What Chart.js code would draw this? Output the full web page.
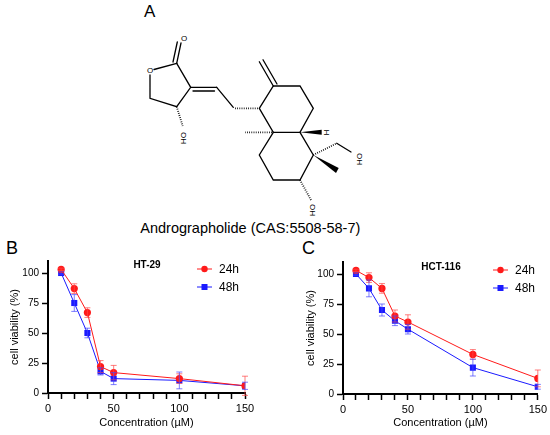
<!DOCTYPE html>
<html>
<head>
<meta charset="utf-8">
<script src="https://cdn.jsdelivr.net/npm/chart.js@4/dist/chart.umd.min.js"></script>
<style>
  body { margin: 0; background: #fff; width: 550px; height: 435px; position: relative; overflow: hidden; font-family: "Liberation Sans", Arial, sans-serif; }
  #structure { position: absolute; left: 0; top: 0; }
  .panel { position: absolute; top: 250px; }
  .lbl { position: absolute; font-size: 18px; color: #000; }
</style>
</head>
<body>
<svg id="structure" width="550" height="245" xmlns="http://www.w3.org/2000/svg">
  <text x="144" y="17" font-size="17" font-family="Liberation Sans, Arial">A</text>
  <g stroke="#000" stroke-width="1.3" fill="none" stroke-linecap="round">
    <!-- lactone ring -->
    <polyline points="176.7,63.3 190.7,87.3 176.7,106.7 150,98.3 150,75"/>
    <line x1="154" y1="69.5" x2="176.7" y2="63.3"/>
    <line x1="176.7" y1="63.3" x2="181" y2="43"/>
    <line x1="173" y1="62" x2="177.3" y2="42"/>
    <!-- exocyclic double bond and chain -->
    <line x1="190.7" y1="87.3" x2="216.7" y2="87.3"/>
    <line x1="193" y1="91" x2="214.5" y2="91"/>
    <line x1="216.7" y1="87.3" x2="233.3" y2="107.3"/>
    <!-- upper ring -->
    <polyline points="259.3,108.3 273.3,86 300,86 313.3,108.3 300,132.3 273.3,132.3 259.3,108.3"/>
    <line x1="273.3" y1="86" x2="259.3" y2="61.7"/>
    <line x1="277" y1="84" x2="263" y2="59.7"/>
    <!-- lower ring -->
    <polyline points="273.3,132.3 259.3,155 273.3,180 300,180 313.3,155 300,132.3"/>
    <line x1="336.7" y1="143.3" x2="351" y2="152"/>
  </g>
  <!-- hashed bonds -->
  <g stroke="#000" stroke-width="1.8" stroke-dasharray="0.8 1.4" fill="none">
    <line x1="176.7" y1="106.7" x2="182.7" y2="126"/>
    <line x1="235" y1="108.3" x2="258" y2="108.3"/>
    <line x1="272" y1="132.3" x2="245" y2="132.3"/>
    <line x1="313.3" y1="155" x2="336.7" y2="143.3"/>
    <line x1="300" y1="180" x2="311" y2="200"/>
  </g>
  <!-- bold wedges -->
  <polygon points="300,132.3 321.7,129.8 321.7,134.8" fill="#000"/>
  <polygon points="313.3,155 338.7,168 336,173" fill="#000"/>
  <g font-family="Liberation Sans, Arial" font-size="8" fill="#000">
    <text x="150" y="73" text-anchor="middle">O</text>
    <text x="184" y="41" text-anchor="middle">O</text>
    <text transform="translate(181,138) rotate(90)" text-anchor="middle">OH</text>
    <text transform="translate(324,132.3) rotate(90)" text-anchor="middle">H</text>
    <text transform="translate(357,159) rotate(90)" text-anchor="middle">OH</text>
    <text transform="translate(310,210) rotate(90)" text-anchor="middle">OH</text>
  </g>
  <text x="250.3" y="233" font-size="14.5" text-anchor="middle" font-family="Liberation Sans, Arial">Andrographolide (CAS:5508-58-7)</text>
</svg>
<div class="lbl" style="left:6px;top:238px;">B</div>
<div class="lbl" style="left:302px;top:238px;">C</div>
<div class="panel" style="left:0;"><canvas id="chartB" width="275" height="185"></canvas></div>
<div class="panel" style="left:275px;"><canvas id="chartC" width="275" height="185"></canvas></div>
<script>
const concentrations = [10, 20, 30, 40, 50, 100, 150];
const ht29_24h = [103, 87, 67, 22, 17, 12, 6];
const ht29_24hErr = [1, 4, 4, 5, 6, 4, 8];
const ht29_48h = [100, 75, 50, 18, 12, 10.5, 6];
const ht29_48hErr = [1, 7, 4, 3, 5, 7, 3];
const hct_24h = [103, 97, 88, 65, 60, 33, 13];
const hct_24hErr = [1, 4, 4, 5, 6, 4, 7];
const hct_48h = [100, 88, 70, 61, 54, 22, 6];
const hct_48hErr = [1, 7, 5, 4, 4, 7, 2];
const yTicks = [0, 25, 50, 75, 100];
const xTicks = [0, 50, 100, 150];
const seriesLabels = ['24h', '48h'];

const RED = '#ff1a1a';
const BLUE = '#1a1aff';

// error bars drawn through the chart's own scales
const errorBars = {
    id: 'errorBars',
    afterDatasetsDraw(chart) {
        const ctx = chart.ctx;
        const xs = chart.scales.x, ys = chart.scales.y;
        chart.data.datasets.forEach(ds => {
            ctx.save();
            ctx.strokeStyle = ds.errColor;
            ctx.lineWidth = 1;
            ds.data.forEach((p, i) => {
                const e = ds.errors[i];
                const x = xs.getPixelForValue(p.x);
                const y1 = ys.getPixelForValue(p.y + e);
                const y2 = ys.getPixelForValue(p.y - e);
                ctx.beginPath();
                ctx.moveTo(x, y1); ctx.lineTo(x, y2);
                ctx.moveTo(x - 3, y1); ctx.lineTo(x + 3, y1);
                ctx.moveTo(x - 3, y2); ctx.lineTo(x + 3, y2);
                ctx.stroke();
            });
            ctx.restore();
        });
    }
};

// legend + cell line title inside the plot
const panelText = {
    id: 'panelText',
    afterDraw(chart, args, opts) {
        const ctx = chart.ctx;
        ctx.save();
        ctx.font = 'bold 10px "Liberation Sans", Arial';
        ctx.fillStyle = '#000';
        ctx.textAlign = 'center';
        ctx.textBaseline = 'middle';
        ctx.fillText(opts.title, opts.titleX, opts.titleY);
        chart.data.datasets.forEach((ds, i) => {
            const y = opts.legendY + i * 18;
            const x0 = opts.legendX;
            ctx.strokeStyle = ds.borderColor;
            ctx.lineWidth = 1;
            ctx.beginPath();
            ctx.moveTo(x0, y); ctx.lineTo(x0 + 15, y);
            ctx.stroke();
            ctx.fillStyle = ds.pointBackgroundColor;
            if (ds.pointStyle === 'rect') {
                ctx.fillRect(x0 + 7.5 - 3, y - 3, 6, 6);
            } else {
                ctx.beginPath();
                ctx.arc(x0 + 7.5, y, 3.2, 0, Math.PI * 2);
                ctx.fill();
            }
            ctx.fillStyle = '#000';
            ctx.textAlign = 'left';
            ctx.font = '12px "Liberation Sans", Arial';
            ctx.fillText(ds.label, x0 + 22, y + 1);
        });
        ctx.restore();
    }
};

function toPoints(vals) {
    return vals.map((v, i) => ({ x: concentrations[i], y: v }));
}

function makeChart(id, s24, e24, s48, e48, cfg) {
    return new Chart(document.getElementById(id), {
        type: 'line',
        data: {
            datasets: [{
                label: seriesLabels[0],
                data: toPoints(s24),
                errors: e24,
                errColor: 'rgba(255,70,70,0.7)',
                borderColor: RED,
                backgroundColor: RED,
                pointBackgroundColor: RED,
                pointBorderColor: RED,
                pointStyle: 'circle',
                pointRadius: 3.6,
                pointBorderWidth: 0,
                borderWidth: 1,
                tension: 0
            }, {
                label: seriesLabels[1],
                data: toPoints(s48),
                errors: e48,
                errColor: 'rgba(70,70,255,0.7)',
                borderColor: BLUE,
                backgroundColor: BLUE,
                pointBackgroundColor: BLUE,
                pointBorderColor: BLUE,
                pointStyle: 'rect',
                pointRadius: 4.3,
                pointBorderWidth: 0,
                borderWidth: 1,
                tension: 0
            }]
        },
        options: {
            responsive: false,
            animation: false,
            layout: { padding: { top: cfg.top, right: cfg.right, left: 0, bottom: 0 } },
            plugins: {
                legend: { display: false },
                tooltip: { enabled: false },
                panelText: cfg.text
            },
            scales: {
                x: {
                    type: 'linear',
                    min: 0,
                    max: 150,
                    afterBuildTicks: axis => {
                        const t = [];
                        for (let v = 0; v <= 150; v += 10) t.push({ value: v });
                        axis.ticks = t;
                    },
                    afterFit: scale => { scale.height = cfg.xHeight; },
                    grid: { drawOnChartArea: false, drawTicks: true, tickLength: 6, tickColor: '#000', tickWidth: 1.5 },
                    border: { display: true, color: '#000', width: 2 },
                    ticks: {
                        color: '#000',
                        font: { size: 11, family: '"Liberation Sans", Arial' },
                        padding: 3,
                        maxRotation: 0,
                        autoSkip: false,
                        callback: v => xTicks.includes(v) ? v : ''
                    },
                    title: {
                        display: true,
                        text: 'Concentration (µM)',
                        color: '#000',
                        font: { size: 11, family: '"Liberation Sans", Arial' },
                        padding: { top: 0, bottom: 5 }
                    }
                },
                y: {
                    min: 0,
                    max: 110,
                    afterBuildTicks: axis => { axis.ticks = yTicks.map(v => ({ value: v })); },
                    afterFit: scale => { scale.width = cfg.yWidth; },
                    grid: { drawOnChartArea: false, drawTicks: true, tickLength: 6, tickColor: '#000', tickWidth: 1.5 },
                    border: { display: true, color: '#000', width: 2 },
                    ticks: {
                        color: '#000',
                        font: { size: 10, family: '"Liberation Sans", Arial' },
                        padding: 3
                    },
                    title: {
                        display: true,
                        text: 'cell viability (%)',
                        color: '#000',
                        font: { size: 11, family: '"Liberation Sans", Arial' },
                        padding: { top: cfg.yTitlePad, bottom: 0 }
                    }
                }
            }
        },
        plugins: [errorBars, panelText]
    });
}

const chartB = makeChart('chartB', ht29_24h, ht29_24hErr, ht29_48h, ht29_48hErr, {
    top: 11, right: 30, xHeight: 42, yWidth: 48, yTitlePad: 8,
    text: { title: 'HT-29', titleX: 147, titleY: 15, legendX: 197, legendY: 19 }
});

const chartC = makeChart('chartC', hct_24h, hct_24hErr, hct_48h, hct_48hErr, {
    top: 12, right: 11, xHeight: 41, yWidth: 68, yTitlePad: 29,
    text: { title: 'HCT-116', titleX: 166, titleY: 17, legendX: 218, legendY: 20 }
});
</script>
</body>
</html>
